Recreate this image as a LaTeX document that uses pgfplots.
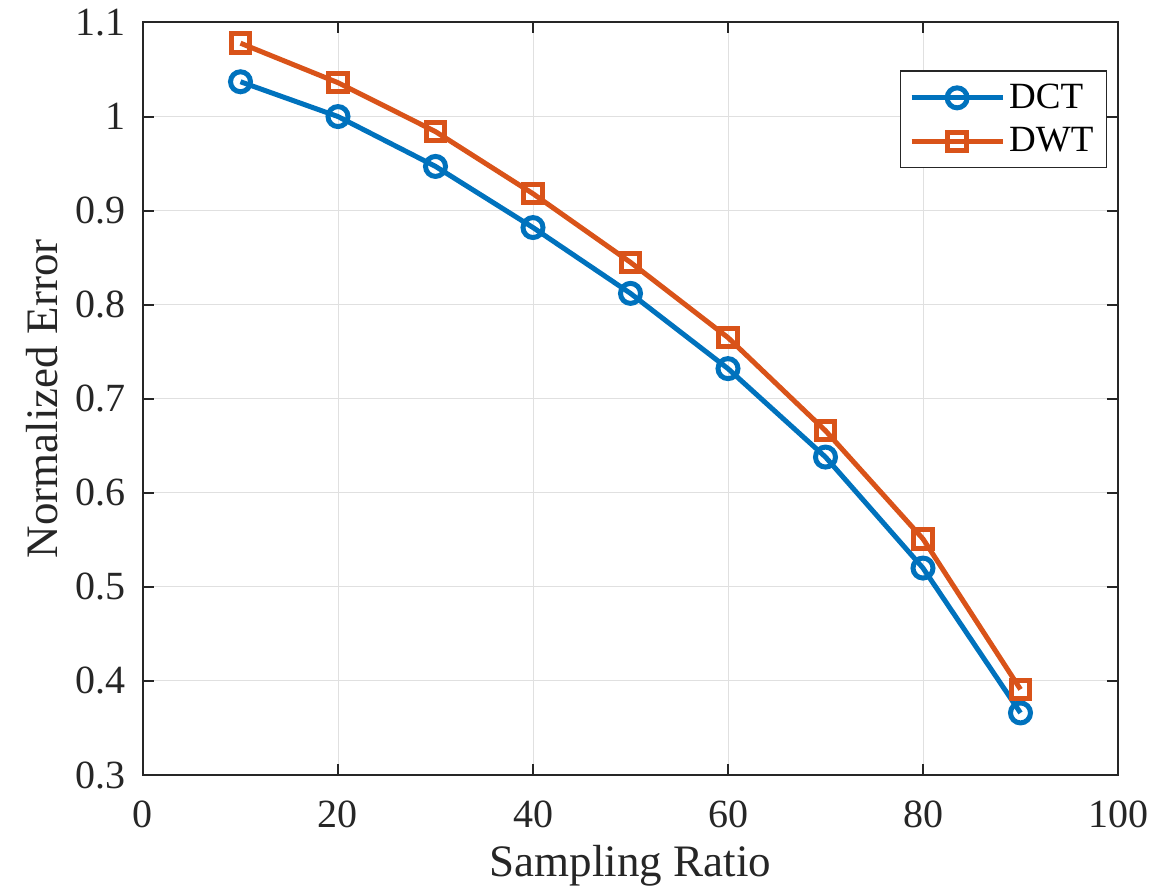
\documentclass[border=0pt]{standalone}
\usepackage{pgfplots}
\pgfplotsset{compat=1.18}
\usepackage{fontspec}
\setmainfont{Liberation Serif}
\definecolor{mblue}{RGB}{0,114,189}
\definecolor{morange}{RGB}{217,83,25}
\definecolor{axgray}{RGB}{38,38,38}
\pgfplotstableread{
x y
10 1.037
20 1.000
30 0.947
40 0.882
50 0.812
60 0.732
70 0.638
80 0.520
90 0.366
}\dct
\pgfplotstableread{
x y
10 1.078
20 1.036
30 0.984
40 0.918
50 0.845
60 0.765
70 0.666
80 0.551
90 0.391
}\dwt
\begin{document}
\begin{tikzpicture}
\begin{axis}[
  scale only axis,
  width=487.5pt, height=376.25pt,
  xmin=0, xmax=100, ymin=0.3, ymax=1.1,
  xtick={0,20,40,60,80,100},
  ytick={0.3,0.4,0.5,0.6,0.7,0.8,0.9,1,1.1},
  /pgf/number format/assume math mode=true,
  /pgf/number format/fixed,
  grid=major,
  major grid style={line width=0.5pt, color=black!12},
  axis line style={line width=1pt, color=axgray},
  tick style={line width=1pt, color=axgray},
  tick align=inside,
  major tick length=5.3pt,
  tick label style={font=\fontsize{20}{24}\selectfont, color=axgray},
  yticklabel style={inner sep=0pt, xshift=-8.5pt},
  xticklabel style={inner sep=0pt, yshift=-13pt},
  xlabel={Sampling Ratio},
  ylabel={Normalized Error},
  label style={font=\fontsize{22.5}{27}\selectfont, color=axgray},
  xlabel style={at={(rel axis cs:0.5,0)}, anchor=center, yshift=-45.5pt},
  ylabel style={at={(rel axis cs:0,0.5)}, anchor=center, rotate=0, yshift=50.5pt},
  legend style={at={(rel axis cs:1,1)}, anchor=north east, xshift=-5.5pt, yshift=-24pt,
    draw=axgray, line width=0.6pt, font=\fontsize{18.5}{22}\selectfont,
    inner sep=4.5pt, row sep=4pt, cells={anchor=west}},
  legend image code/.code={
    \draw[mark repeat=2,mark phase=2] plot coordinates {(0cm,0cm) (0.8cm,0cm) (1.6cm,0cm)};
  },
]
\addplot[color=mblue, line width=2.5pt, mark=o, mark size=5pt, mark options={fill=white, line width=2.5pt}] table {\dct};
\addlegendentry{DCT}
\addplot[color=morange, line width=2.5pt, mark=square, mark size=4.6pt, mark options={fill=white, line width=2.5pt}] table {\dwt};
\addlegendentry{DWT}
\end{axis}
\pgfresetboundingbox
\path ([xshift=-71.5pt, yshift=-58.5pt]current axis.south west) rectangle ++(586.5pt,446pt);
\end{tikzpicture}
\end{document}
